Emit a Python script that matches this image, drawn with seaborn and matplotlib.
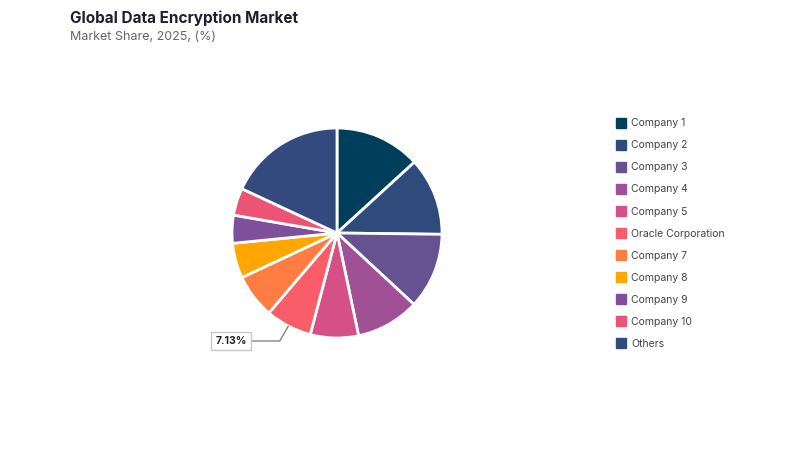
import numpy as np
import matplotlib
matplotlib.use('Agg')
import matplotlib.pyplot as plt
import seaborn as sns
from matplotlib.lines import Line2D

# data
companies = ['Company 1', 'Company 2', 'Company 3', 'Company 4', 'Company 5',
             'Oracle Corporation', 'Company 7', 'Company 8', 'Company 9',
             'Company 10', 'Others']
shares = [13.2, 12.0, 11.7, 9.8, 7.4, 7.13, 6.8, 5.4, 4.3, 4.2, 18.07]
colors = ['#003f5c', '#2f4b7c', '#665191', '#a05195', '#d45087', '#f95d6a',
          '#ff7c43', '#ffa600', '#7e4f9a', '#ec5476', '#344a7e']
label_company = 'Oracle Corporation'
label_text = '7.13%'

sns.set_theme(style='white')
plt.rcParams['font.family'] = ['Inter', 'DejaVu Sans']

W, H = 800, 450
fig = plt.figure(figsize=(8, 4.5), dpi=100)
fig.patch.set_facecolor('white')

# pie axes: centre (337, 233) px, radius 105 px
cx, cy, r = 337, 233, 105
ax = fig.add_axes([(cx - r) / W, (H - cy - r) / H, 2 * r / W, 2 * r / H])
palette = sns.color_palette(colors)
wedges, _ = ax.pie(shares, colors=palette, startangle=90, counterclock=False,
                   wedgeprops=dict(edgecolor='white', linewidth=2))
ax.set_xlim(-1, 1)
ax.set_ylim(-1, 1)
ax.set_aspect('equal')
ax.axis('off')

# callout for the labelled slice
w = wedges[companies.index(label_company)]
mid = np.deg2rad((w.theta1 + w.theta2) / 2)
ax.annotate(label_text, xy=(np.cos(mid), np.sin(mid)),
            xytext=((231 - cx) / r, -(341 - cy) / r),
            ha='center', va='center', fontsize=7.5, fontweight='bold', color='#222222',
            bbox=dict(boxstyle='square,pad=0.4', fc='white', ec='#c8c8c8', lw=1),
            arrowprops=dict(arrowstyle='-', color='#777777', lw=0.9,
                            connectionstyle='angle,angleA=0,angleB=60,rad=0',
                            shrinkA=0, shrinkB=0),
            annotation_clip=False)

# legend
handles = [Line2D([0], [0], marker='s', linestyle='', markersize=7.5,
                  markerfacecolor=c, markeredgecolor=c) for c in colors]
fig.legend(handles, companies, loc='upper left',
           bbox_to_anchor=(611 / W, 1 - 114 / H), frameon=False,
           fontsize=7.5, labelspacing=1.16, handletextpad=0.35,
           handlelength=1.2, borderaxespad=0, labelcolor='#444444')

fig.text(70 / W, 1 - 18 / H, 'Global Data Encryption Market', fontsize=11,
         fontweight='bold', color='#1e1e2e', va='center', ha='left')
fig.text(70 / W, 1 - 37 / H, 'Market Share, 2025, (%)', fontsize=9,
         color='#666666', va='center', ha='left')

fig.savefig('out.png', dpi=100, facecolor='white')
